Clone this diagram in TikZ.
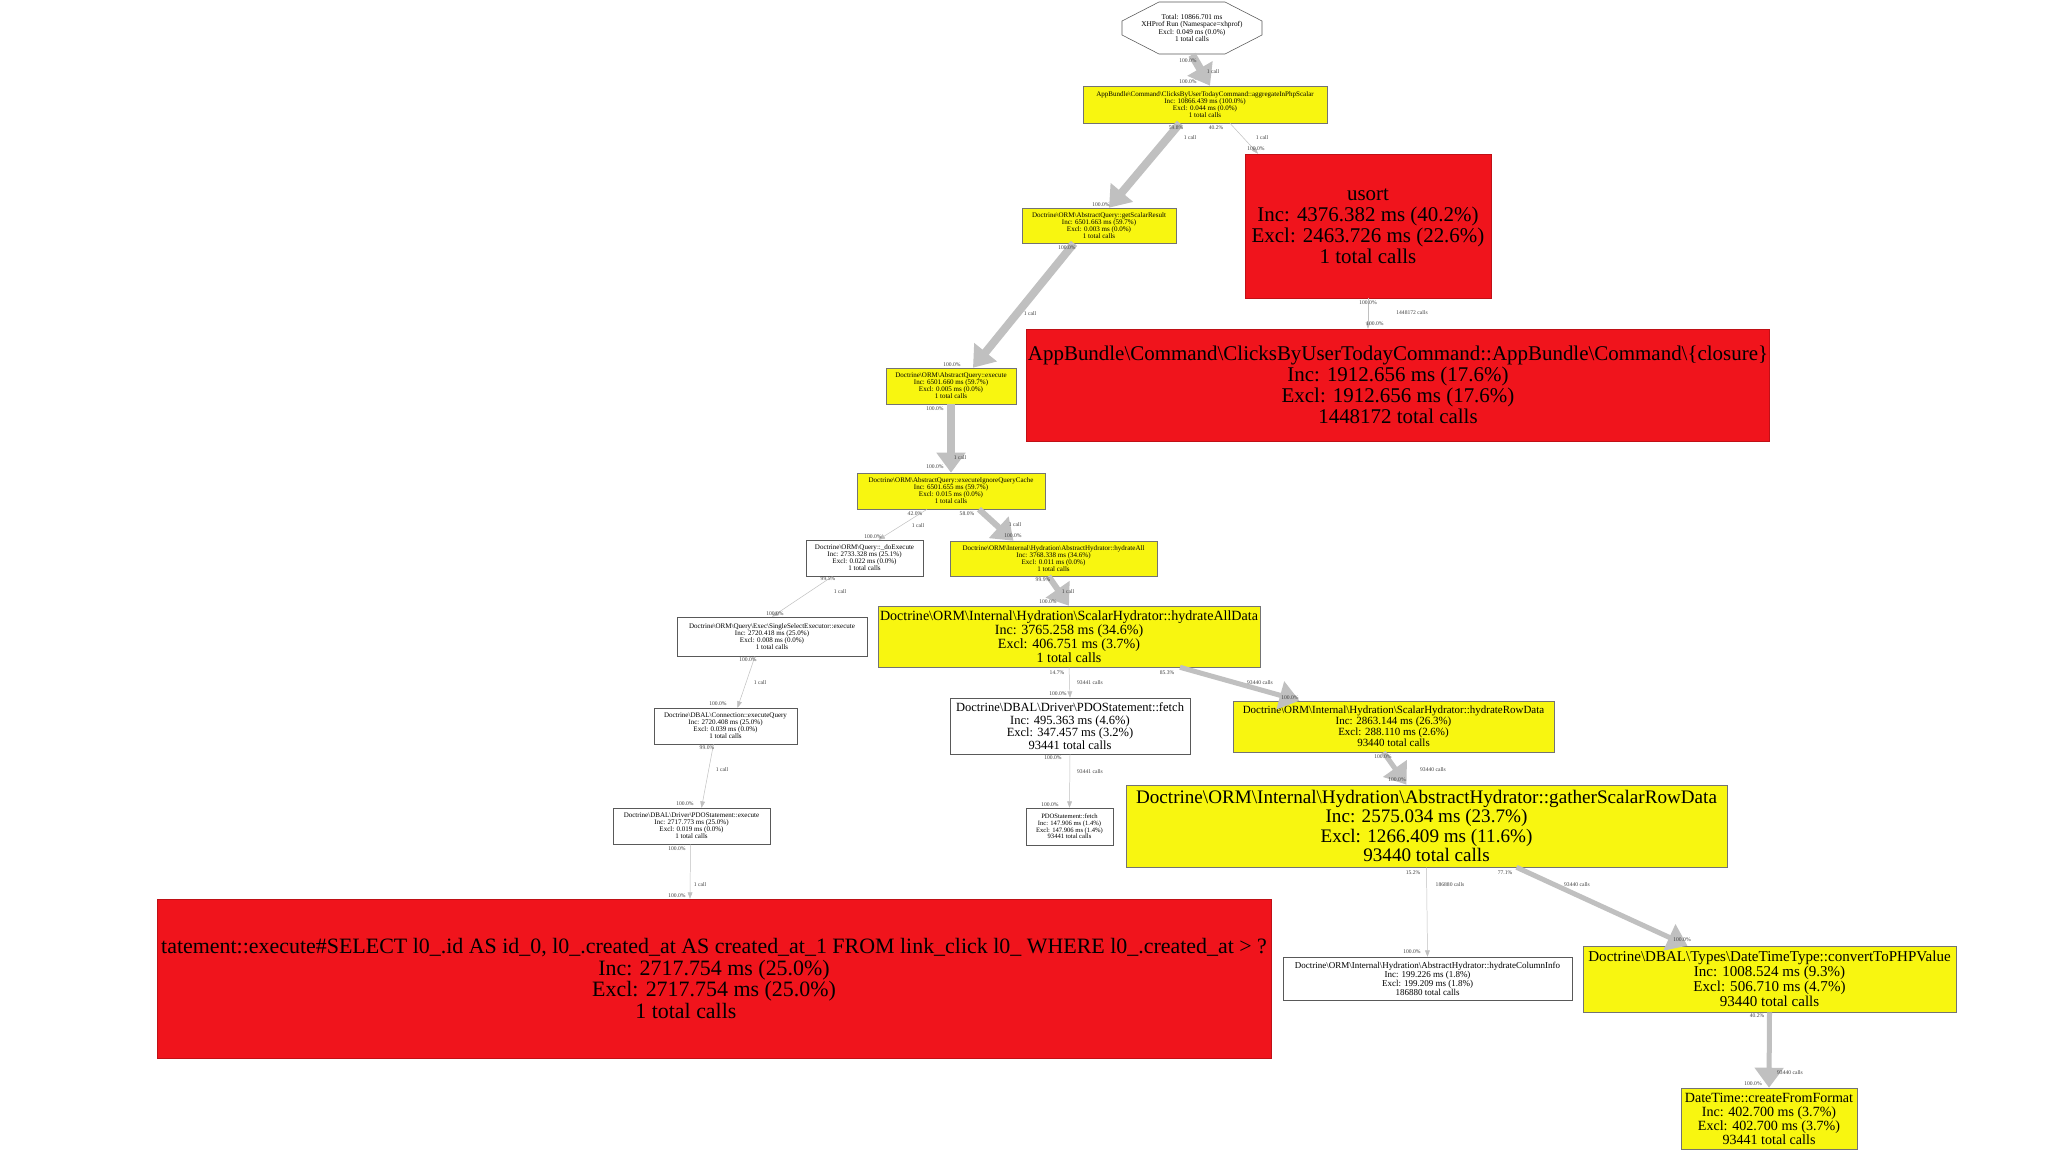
\documentclass[tikz,border=0pt]{standalone}
\usepackage{fontspec}
\setmainfont{Liberation Serif}
\usetikzlibrary{arrows.meta, calc}
\definecolor{hotyel}{RGB}{248,246,16}
\definecolor{hotred}{RGB}{240,20,28}
\definecolor{edgray}{RGB}{192,192,192}
\newcommand{\bsl}{\textbackslash}
\tikzset{
  fs/.style = {font=\fontsize{#1}{#1}\selectfont},
  wh/.style 2 args = {minimum width=#1*0.25mm, minimum height=#2*0.25mm},
  fn/.style = {draw=black!65, fill=white, inner sep=0pt, align=center,
    line width=0.4pt},
  hot/.style = {fn, fill=hotyel, draw=black!55},
  crit/.style = {fn, fill=hotred, draw=hotred!80!black},
  lbl/.style = {font=\fontsize{4}{4}\selectfont, inner sep=0pt, text=black!75},
  ed/.style = {draw=edgray, line width=0.35pt,
    -{Triangle[length=1.6mm, width=1.2mm]}},
  ted/.style = {draw=edgray, line width=#1,
    -{Triangle[length=5mm, width=7mm]}}
}

\begin{document}
\begin{tikzpicture}[x=0.25mm, y=-0.25mm]
  \fill[white] (0,0) rectangle (2048,1152);
  \useasboundingbox (0,0) rectangle (2048,1152);

  \node [fn, draw=none, wh={140}{53}, fs=5.2] (root) at (1192,28)
    {Total: 10866.701 ms\\XHProf Run (Namespace=xhprof)\\Excl: 0.049 ms (0.0\%)\\1 total calls};
  \draw [black!65, line width=0.4pt]
    ($(root.center)+(-33,-26)$) -- ($(root.center)+(33,-26)$)
    -- ($(root.center)+(70,-7)$) -- ($(root.center)+(70,7)$)
    -- ($(root.center)+(33,26)$) -- ($(root.center)+(-33,26)$)
    -- ($(root.center)+(-70,7)$) -- ($(root.center)+(-70,-7)$) -- cycle;

  \node [hot, wh={244}{37}, fs=5] (app) at (1205,104.5)
    {AppBundle\bsl Command\bsl ClicksByUserTodayCommand::aggregateInPhpScalar\\Inc: 10866.439 ms (100.0\%)\\Excl: 0.044 ms (0.0\%)\\1 total calls};
  \node [hot, wh={154}{35}, fs=5] (gsr) at (1099,225.5)
    {Doctrine\bsl ORM\bsl AbstractQuery::getScalarResult\\Inc: 6501.663 ms (59.7\%)\\Excl: 0.003 ms (0.0\%)\\1 total calls};
  \node [crit, wh={246}{144}, fs=14.9] (usort) at (1368,226)
    {usort\\Inc: 4376.382 ms (40.2\%)\\Excl: 2463.726 ms (22.6\%)\\1 total calls};
  \node [crit, wh={743}{112}, fs=14.9] (clos) at (1398,385)
    {AppBundle\bsl Command\bsl ClicksByUserTodayCommand::AppBundle\bsl Command\bsl \{closure\}\\Inc: 1912.656 ms (17.6\%)\\Excl: 1912.656 ms (17.6\%)\\1448172 total calls};
  \node [hot, wh={130}{36}, fs=5] (aqe) at (951,386)
    {Doctrine\bsl ORM\bsl AbstractQuery::execute\\Inc: 6501.660 ms (59.7\%)\\Excl: 0.005 ms (0.0\%)\\1 total calls};
  \node [hot, wh={188}{36}, fs=5] (eiqc) at (951,491)
    {Doctrine\bsl ORM\bsl AbstractQuery::executeIgnoreQueryCache\\Inc: 6501.655 ms (59.7\%)\\Excl: 0.015 ms (0.0\%)\\1 total calls};
  \node [fn, wh={117}{36}, fs=5] (doex) at (864.5,558)
    {Doctrine\bsl ORM\bsl Query::\_doExecute\\Inc: 2733.328 ms (25.1\%)\\Excl: 0.022 ms (0.0\%)\\1 total calls};
  \node [hot, wh={207}{35}, fs=5] (hall) at (1053.5,558.5)
    {Doctrine\bsl ORM\bsl Internal\bsl Hydration\bsl AbstractHydrator::hydrateAll\\Inc: 3768.338 ms (34.6\%)\\Excl: 0.011 ms (0.0\%)\\1 total calls};
  \node [fn, wh={190}{39}, fs=5] (sse) at (772,636.5)
    {Doctrine\bsl ORM\bsl Query\bsl Exec\bsl SingleSelectExecutor::execute\\Inc: 2720.418 ms (25.0\%)\\Excl: 0.008 ms (0.0\%)\\1 total calls};
  \node [hot, wh={382}{61}, fs=10] (had) at (1069,636.5)
    {Doctrine\bsl ORM\bsl Internal\bsl Hydration\bsl ScalarHydrator::hydrateAllData\\Inc: 3765.258 ms (34.6\%)\\Excl: 406.751 ms (3.7\%)\\1 total calls};
  \node [fn, wh={143}{36}, fs=5] (conn) at (725.5,726)
    {Doctrine\bsl DBAL\bsl Connection::executeQuery\\Inc: 2720.408 ms (25.0\%)\\Excl: 0.039 ms (0.0\%)\\1 total calls};
  \node [fn, wh={240}{56}, fs=8.9] (dfetch) at (1070,726)
    {Doctrine\bsl DBAL\bsl Driver\bsl PDOStatement::fetch\\Inc: 495.363 ms (4.6\%)\\Excl: 347.457 ms (3.2\%)\\93441 total calls};
  \node [hot, wh={321}{51}, fs=7.8] (hrd) at (1393.5,726.5)
    {Doctrine\bsl ORM\bsl Internal\bsl Hydration\bsl ScalarHydrator::hydrateRowData\\Inc: 2863.144 ms (26.3\%)\\Excl: 288.110 ms (2.6\%)\\93440 total calls};
  \node [fn, wh={157}{36}, fs=5] (pexe) at (691.5,826)
    {Doctrine\bsl DBAL\bsl Driver\bsl PDOStatement::execute\\Inc: 2717.773 ms (25.0\%)\\Excl: 0.019 ms (0.0\%)\\1 total calls};
  \node [fn, wh={87}{37}, fs=4.7] (nfetch) at (1069.5,826.5)
    {PDOStatement::fetch\\Inc: 147.906 ms (1.4\%)\\Excl: 147.906 ms (1.4\%)\\93441 total calls};
  \node [hot, wh={601}{82}, fs=13.6] (gath) at (1426.5,826)
    {Doctrine\bsl ORM\bsl Internal\bsl Hydration\bsl AbstractHydrator::gatherScalarRowData\\Inc: 2575.034 ms (23.7\%)\\Excl: 1266.409 ms (11.6\%)\\93440 total calls};
  \node [crit, wh={1114}{159}, fs=15.6] (sql) at (714,978.5)
    {tatement::execute\#SELECT l0\_.id AS id\_0, l0\_.created\_at AS created\_at\_1 FROM link\_click l0\_ WHERE l0\_.created\_at > ?\\Inc: 2717.754 ms (25.0\%)\hspace*{40pt}\\Excl: 2717.754 ms (25.0\%)\hspace*{40pt}\\1 total calls\hspace*{40pt}};
  \node [fn, wh={289}{43}, fs=6.4] (hci) at (1427.5,978.5)
    {Doctrine\bsl ORM\bsl Internal\bsl Hydration\bsl AbstractHydrator::hydrateColumnInfo\\Inc: 199.226 ms (1.8\%)\\Excl: 199.209 ms (1.8\%)\\186880 total calls};
  \node [hot, wh={373}{66}, fs=10.7] (conv) at (1769.5,979)
    {Doctrine\bsl DBAL\bsl Types\bsl DateTimeType::convertToPHPValue\\Inc: 1008.524 ms (9.3\%)\\Excl: 506.710 ms (4.7\%)\\93440 total calls};
  \node [hot, wh={176}{61}, fs=10] (cff) at (1769,1118.5)
    {DateTime::createFromFormat\\Inc: 402.700 ms (3.7\%)\\Excl: 402.700 ms (3.7\%)\\93441 total calls};

  \draw [ted=2mm] (root.south) -- ($(app.north)+(5,0)$);
  \draw [ted=2mm] ($(app.south)+(-25,0)$) -- ($(gsr.north)+(10,0)$);
  \draw [ed] ($(app.south)+(25,0)$) -- ($(usort.north)+(-110,0)$);
  \draw [ed] (usort.south) -- ($(clos.north)+(-30,0)$);
  \draw [ted=2mm] ($(gsr.south)+(-25,0)$) -- ($(aqe.north)+(22,0)$);
  \draw [ted=2mm] (aqe.south) -- (eiqc.north);
  \draw [ed] ($(eiqc.south)+(-24,0)$) -- ($(doex.north)+(14,0)$);
  \draw [ted=1.5mm] ($(eiqc.south)+(28,0)$) -- ($(hall.north)+(-40,0)$);
  \draw [ted=1.5mm] ($(hall.south)+(-5,0)$) -- (had.north);
  \draw [ed] ($(doex.south)+(-32,0)$) -- (sse.north);
  \draw [ed] ($(sse.south)+(-17,0)$) -- ($(conn.north)+(12,0)$);
  \draw [ed] ($(conn.south)+(-12,0)$) -- ($(pexe.north)+(10,0)$);
  \draw [ed] ($(pexe.south)+(-1,0)$) -- ($(sql.north)+(-24,0)$);
  \draw [ed] (had.south) -- (dfetch.north);
  \draw [ted=1.25mm] ($(had.south)+(111,0)$) -- ($(hrd.north)+(-94,0)$);
  \draw [ed] (dfetch.south) -- (nfetch.north);
  \draw [ted=1.25mm] ($(hrd.south)+(-10,0)$) -- ($(gath.north)+(-20,0)$);
  \draw [ed] (gath.south) -- (hci.north);
  \draw [ted=1.25mm] ($(gath.south)+(90,0)$) -- ($(conv.north)+(-82,0)$);
  \draw [ted=1.25mm] (conv.south) -- (cff.north);

  \node [lbl] (e1t) at (1188,61) {100.0\%};
  \node [lbl] (e1c) at (1213,72) {1 call};
  \node [lbl] (e1h) at (1188,82) {100.0\%};
  \node [lbl] (e2t) at (1176,128) {59.8\%};
  \node [lbl] (e2c) at (1190,138) {1 call};
  \node [lbl] (e2h) at (1101,205) {100.0\%};
  \node [lbl] (e3t) at (1216,128) {40.2\%};
  \node [lbl] (e3c) at (1262,138) {1 call};
  \node [lbl] (e3h) at (1256,149) {100.0\%};
  \node [lbl] (e4t) at (1368,303) {100.0\%};
  \node [lbl] (e4c) at (1412,313) {1448172 calls};
  \node [lbl] (e4h) at (1375,324) {100.0\%};
  \node [lbl] (e5t) at (1067,248) {100.0\%};
  \node [lbl] (e5c) at (1030,314) {1 call};
  \node [lbl] (e5h) at (952,365) {100.0\%};
  \node [lbl] (e6t) at (935,409) {100.0\%};
  \node [lbl] (e6c) at (960,458) {1 call};
  \node [lbl] (e6h) at (935,467) {100.0\%};
  \node [lbl] (e7t) at (915,514) {42.0\%};
  \node [lbl] (e7c) at (918,526) {1 call};
  \node [lbl] (e7h) at (873,537) {100.0\%};
  \node [lbl] (e8t) at (967,514) {58.0\%};
  \node [lbl] (e8c) at (1015,525) {1 call};
  \node [lbl] (e8h) at (1013,536) {100.0\%};
  \node [lbl] (e9t) at (1043,580) {99.9\%};
  \node [lbl] (e9c) at (1068,592) {1 call};
  \node [lbl] (e9h) at (1048,602) {100.0\%};
  \node [lbl] (e10t) at (828,579) {99.5\%};
  \node [lbl] (e10c) at (840,592) {1 call};
  \node [lbl] (e10h) at (775,614) {100.0\%};
  \node [lbl] (e11t) at (748,660) {100.0\%};
  \node [lbl] (e11c) at (760,683) {1 call};
  \node [lbl] (e11h) at (718,704) {100.0\%};
  \node [lbl] (e12t) at (707,748) {99.0\%};
  \node [lbl] (e12c) at (722,770) {1 call};
  \node [lbl] (e12h) at (685,804) {100.0\%};
  \node [lbl] (e13t) at (677,849) {100.0\%};
  \node [lbl] (e13c) at (700,885) {1 call};
  \node [lbl] (e13h) at (677,896) {100.0\%};
  \node [lbl] (e14t) at (1057,673) {14.7\%};
  \node [lbl] (e14c) at (1090,683) {93441 calls};
  \node [lbl] (e14h) at (1058,694) {100.0\%};
  \node [lbl] (e15t) at (1167,673) {85.3\%};
  \node [lbl] (e15c) at (1260,683) {93440 calls};
  \node [lbl] (e15h) at (1290,698) {100.0\%};
  \node [lbl] (e16t) at (1053,758) {100.0\%};
  \node [lbl] (e16c) at (1090,772) {93441 calls};
  \node [lbl] (e16h) at (1050,805) {100.0\%};
  \node [lbl] (e17t) at (1383,757) {100.0\%};
  \node [lbl] (e17c) at (1433,770) {93440 calls};
  \node [lbl] (e17h) at (1397,780) {100.0\%};
  \node [lbl] (e18t) at (1413,873) {15.2\%};
  \node [lbl] (e18c) at (1450,885) {186880 calls};
  \node [lbl] (e18h) at (1412,952) {100.0\%};
  \node [lbl] (e19t) at (1505,873) {77.1\%};
  \node [lbl] (e19c) at (1577,885) {93440 calls};
  \node [lbl] (e19h) at (1682,940) {100.0\%};
  \node [lbl] (e20t) at (1757,1016) {40.2\%};
  \node [lbl] (e20c) at (1790,1073) {93440 calls};
  \node [lbl] (e20h) at (1753,1084) {100.0\%};
\end{tikzpicture}
\end{document}
